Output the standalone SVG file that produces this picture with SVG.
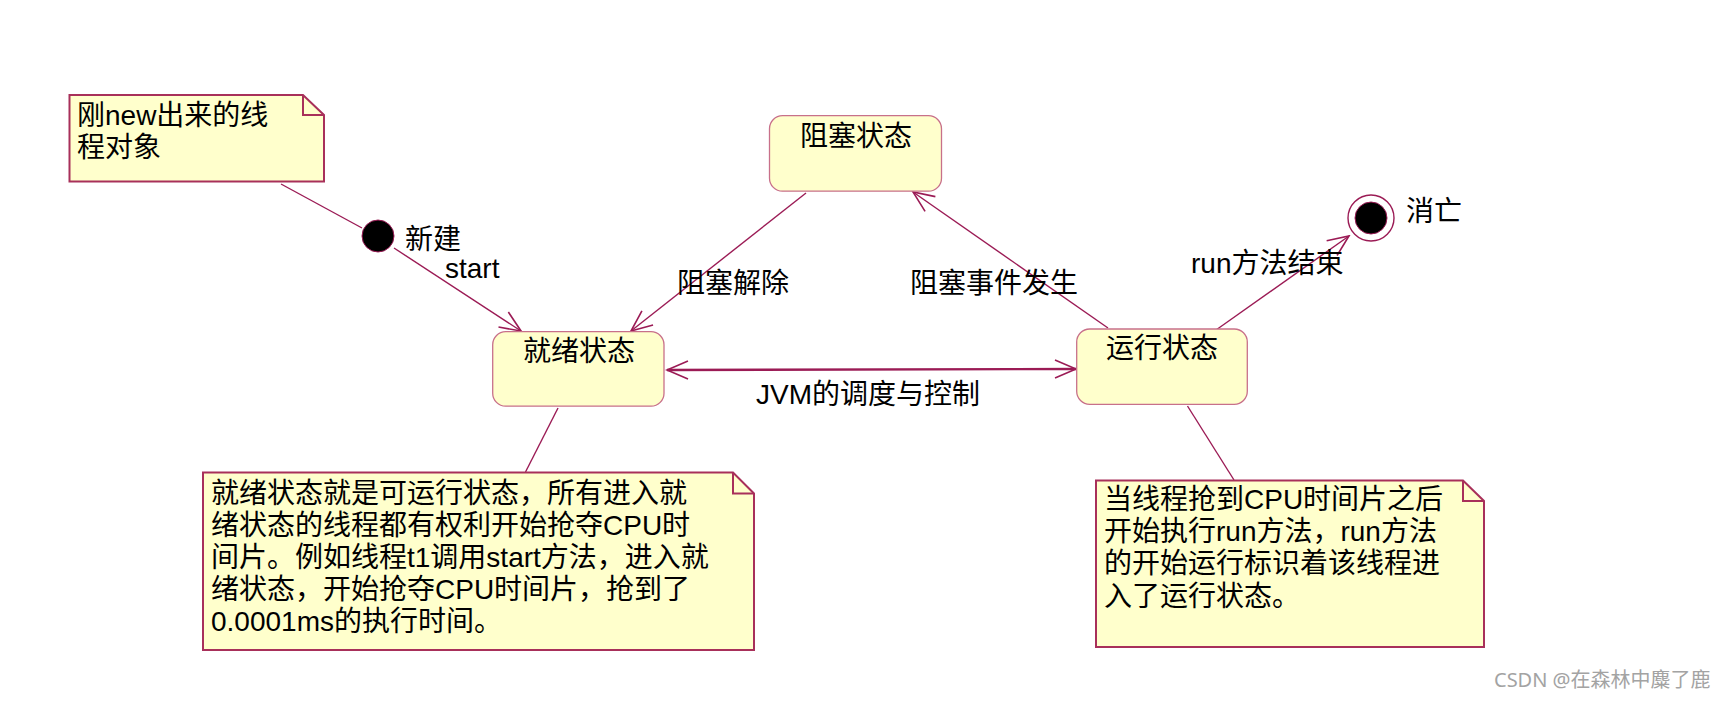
<svg xmlns="http://www.w3.org/2000/svg" width="1720" height="702" viewBox="0 0 1720 702">
<style>
.bg{fill:#ffffff}
.note{fill:#FFFFCC;stroke:#A8305A;stroke-width:2}
.fold{fill:none;stroke:#A8305A;stroke-width:2}
.state{fill:#FFFFCC;stroke:#C8708A;stroke-width:1.3}
.conn{fill:none;stroke:#9B1B55;stroke-width:1.4}
.thick{stroke-width:2.4}
.t{font-family:"Liberation Sans","Noto Sans CJK SC",sans-serif;font-size:28px;fill:#000}
.c{text-anchor:middle}
.wm{font-family:"Noto Sans","Noto Sans CJK SC",sans-serif;font-size:20px;fill:#a3a3a3}
</style>
<defs>
<marker id="arr" viewBox="-23 -11 25 22" refX="0" refY="0" markerWidth="25" markerHeight="22" markerUnits="userSpaceOnUse" orient="auto-start-reverse">
<path d="M-21,-9 L0,0 L-21,9" fill="none" stroke="#9B1B55" stroke-width="1.6"/>
</marker>
</defs>
<rect class="bg" x="0" y="0" width="1720" height="702"/>

<g id="connectors">
<line class="conn" x1="281" y1="184" x2="362" y2="228"/>
<line class="conn" x1="558" y1="408" x2="525.5" y2="472"/>
<line class="conn" x1="1187.5" y1="406" x2="1234" y2="480"/>
<line class="conn" x1="394" y1="248" x2="521" y2="331" marker-end="url(#arr)"/>
<line class="conn" x1="806" y1="193" x2="631" y2="331" marker-end="url(#arr)"/>
<line class="conn" x1="1108" y1="328" x2="913" y2="192" marker-end="url(#arr)"/>
<line class="conn" x1="1216" y1="330" x2="1349" y2="236" marker-end="url(#arr)"/>
<line class="conn thick" x1="667" y1="370" x2="1076" y2="369" marker-start="url(#arr)" marker-end="url(#arr)"/>
<text class="t" x="445" y="278">start</text>
<text class="t" x="677" y="293">阻塞解除</text>
<text class="t" x="910" y="293">阻塞事件发生</text>
<text class="t" x="1191" y="273">run方法结束</text>
<text class="t" x="756" y="404">JVM的调度与控制</text>
</g>

<g id="note-new">
<path class="note" d="M69.5,95 H303 L324,115 V181.5 H69.5 Z"/>
<path class="fold" d="M303,95 V115 H324"/>
<text class="t" x="77" y="125">刚new出来的线</text>
<text class="t" x="77" y="157">程对象</text>
</g>

<g id="initial">
<circle cx="378" cy="236" r="16" fill="#000" stroke="#9B1B55" stroke-width="1"/>
<text class="t" x="405" y="249">新建</text>
</g>

<g id="blocked">
<rect class="state" x="769.5" y="115.7" width="172" height="75.5" rx="13"/>
<text class="t c" x="856" y="146">阻塞状态</text>
</g>

<g id="ready">
<rect class="state" x="492.7" y="331.7" width="171.3" height="74.5" rx="13"/>
<text class="t c" x="579" y="361">就绪状态</text>
</g>

<g id="running">
<rect class="state" x="1076.7" y="329" width="170.6" height="75.3" rx="13"/>
<text class="t c" x="1162" y="358">运行状态</text>
</g>

<g id="final">
<circle cx="1371" cy="218" r="23" fill="#fff" stroke="#9B1B55" stroke-width="1.4"/>
<circle cx="1371" cy="218" r="16" fill="#000" stroke="#9B1B55" stroke-width="1"/>
<text class="t" x="1406" y="221">消亡</text>
</g>

<g id="note-ready">
<path class="note" d="M203,472.5 H733 L754,493.5 V650 H203 Z"/>
<path class="fold" d="M733,472.5 V493.5 H754"/>
<text class="t" x="211" y="503">就绪状态就是可运行状态，所有进入就</text>
<text class="t" x="211" y="535">绪状态的线程都有权利开始抢夺CPU时</text>
<text class="t" x="211" y="567">间片。例如线程t1调用start方法，进入就</text>
<text class="t" x="211" y="599">绪状态，开始抢夺CPU时间片，抢到了</text>
<text class="t" x="211" y="631">0.0001ms的执行时间。</text>
</g>

<g id="note-running">
<path class="note" d="M1096,480.5 H1463 L1484,501 V647 H1096 Z"/>
<path class="fold" d="M1463,480.5 V501 H1484"/>
<text class="t" x="1104" y="509">当线程抢到CPU时间片之后</text>
<text class="t" x="1104" y="541">开始执行run方法，run方法</text>
<text class="t" x="1104" y="573">的开始运行标识着该线程进</text>
<text class="t" x="1104" y="606">入了运行状态。</text>
</g>

<text class="wm" x="1494" y="687">CSDN @在森林中麋了鹿</text>
</svg>
